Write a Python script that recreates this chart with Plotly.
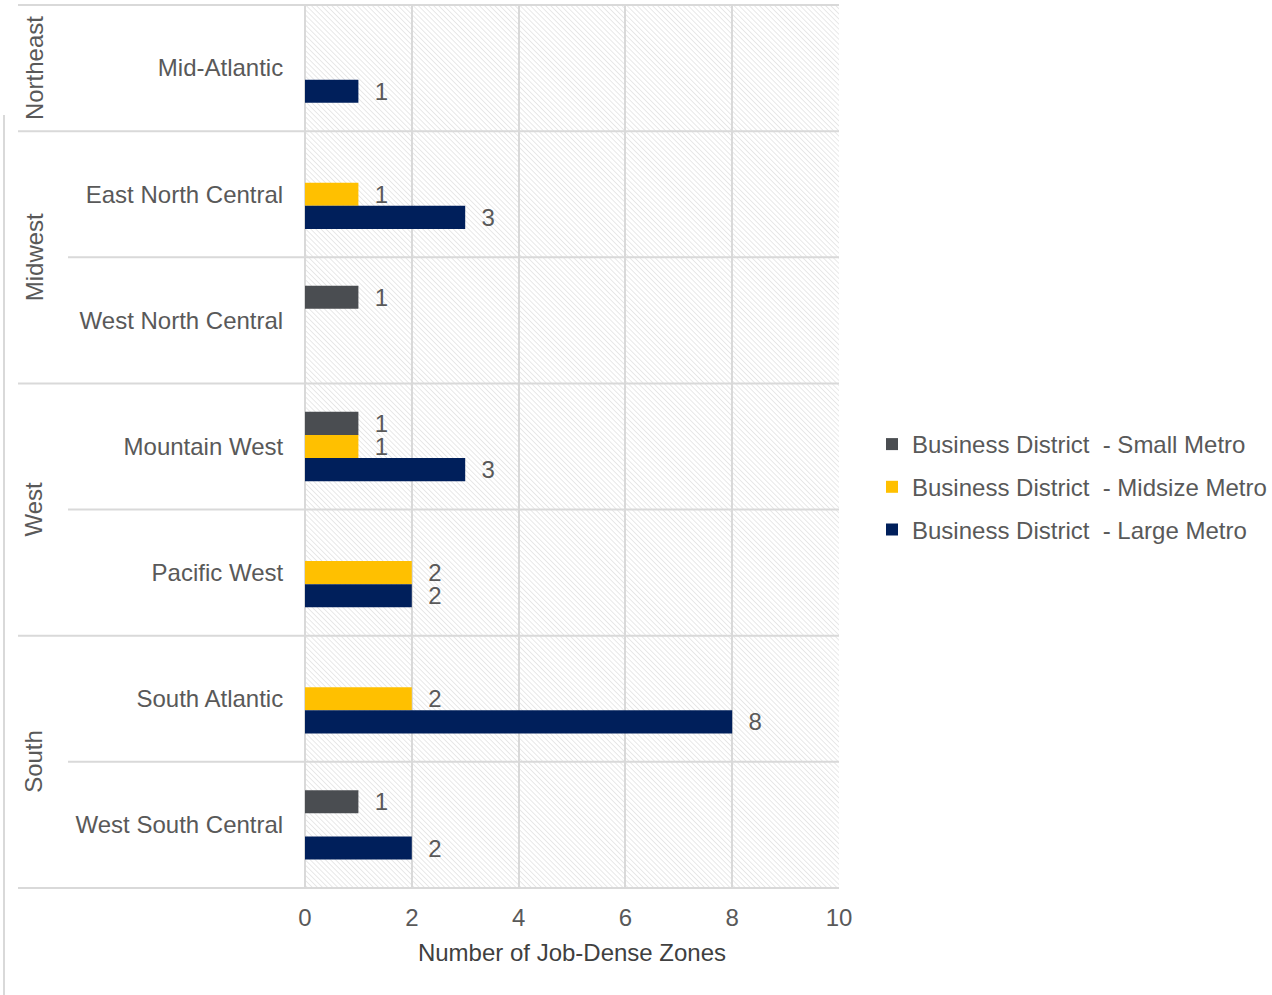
import base64
import plotly.graph_objects as go

categories = ["Mid-Atlantic", "East North Central", "West North Central",
              "Mountain West", "Pacific West", "South Atlantic", "West South Central"]
regions = ["Northeast", "Midwest", "Midwest", "West", "West", "South", "South"]

small_metro = [None, None, 1, 1, None, None, 1]
midsize_metro = [None, 1, None, 1, 2, 2, None]
large_metro = [1, 3, None, 3, 2, 8, 2]

series_names = ["Business District  - Small Metro",
                "Business District  - Midsize Metro",
                "Business District  - Large Metro"]
series_values = [small_metro, midsize_metro, large_metro]
series_colors = ["#4a4d51", "#ffc000", "#001f5b"]

x_ticks = [0, 2, 4, 6, 8, 10]

W, H = 1272, 995
ML, MR, MT, MB = 305, 433, 5, 107
PW, PH = W - ML - MR, H - MT - MB
FONT = "Liberation Sans, Arial, sans-serif"
TXT = "#595959"
GRID = "#d9d9d9"

fig = go.Figure()
for i, (name, vals, col) in enumerate(zip(series_names, series_values, series_colors)):
    fig.add_trace(go.Bar(
        y=categories, x=vals, name=name, orientation="h",
        marker=dict(color=col, line=dict(width=0)),
        texttemplate="\u00a0\u00a0%{x}", textposition="outside",
        constraintext="none", cliponaxis=False,
        textfont=dict(family=FONT, size=24, color=TXT),
        legendgroup=f"g{i}", hoverinfo="x+name",
    ))

# hatched plot background
svg = (f'<svg xmlns="http://www.w3.org/2000/svg" width="{PW}" height="{PH}" viewBox="0 0 {PW} {PH}">'
       '<defs><pattern id="h" width="3.6" height="3.6" patternUnits="userSpaceOnUse" '
       'patternTransform="rotate(-45)"><line x1="0" y1="0" x2="0" y2="3.6" '
       'stroke="#d2d2d2" stroke-width="1"/></pattern></defs>'
       f'<rect width="{PW}" height="{PH}" fill="white"/>'
       f'<rect width="{PW}" height="{PH}" fill="url(#h)"/></svg>')
src = "data:image/svg+xml;base64," + base64.b64encode(svg.encode()).decode()
fig.add_layout_image(dict(source=src, xref="paper", yref="paper", x=0, y=1,
                          sizex=1, sizey=1, sizing="stretch", xanchor="left",
                          yanchor="top", layer="below"))

# category / region separator lines
n = len(categories)
x_outer = (18 - ML) / PW
x_inner = (68 - ML) / PW
for k in range(n + 1):
    if k == 0 or k == n or regions[k] != regions[k - 1]:
        x0 = x_outer
    else:
        x0 = x_inner
    yp = 1 - k / n
    fig.add_shape(type="line", xref="paper", yref="paper", x0=x0, x1=1, y0=yp, y1=yp,
                  line=dict(color=GRID, width=2))

# left border of chart
fig.add_shape(type="line", xref="paper", yref="paper",
              x0=(4 - ML) / PW, x1=(4 - ML) / PW, y0=1 - (115 - MT) / PH, y1=-(MB) / PH,
              line=dict(color=GRID, width=2))

# region labels
seen = []
for r in regions:
    if r not in seen:
        seen.append(r)
for r in seen:
    idx = [i for i, rr in enumerate(regions) if rr == r]
    fig.add_annotation(text=r, xref="paper", yref="y", x=(34 - ML) / PW,
                       y=sum(idx) / len(idx), textangle=-90, showarrow=False,
                       xanchor="center", yanchor="middle",
                       font=dict(family=FONT, size=24, color=TXT))

fig.update_layout(
    width=W, height=H,
    margin=dict(l=ML, r=MR, t=MT, b=MB, autoexpand=False),
    paper_bgcolor="white", plot_bgcolor="rgba(0,0,0,0)",
    barmode="group", bargap=0.45, bargroupgap=0,
    font=dict(family=FONT, size=24, color=TXT),
    legend=dict(x=(872 - ML) / PW, xanchor="left", y=1 - (422 - MT) / PH, yanchor="top",
                font=dict(family=FONT, size=24, color=TXT), tracegroupgap=8.5,
                itemwidth=30, bgcolor="rgba(0,0,0,0)"),
    showlegend=True,
)
fig.update_xaxes(range=[0, 10], tickvals=x_ticks, ticktext=[str(v) for v in x_ticks],
                 showgrid=True, gridcolor=GRID, gridwidth=2, zeroline=True,
                 zerolinecolor=GRID, zerolinewidth=2, showline=False, automargin=False,
                 ticks="outside", ticklen=8, tickcolor="rgba(0,0,0,0)",
                 tickfont=dict(family=FONT, size=24, color=TXT),
                 title=dict(text="Number of Job-Dense Zones", standoff=14,
                            font=dict(family=FONT, size=24, color="#404040")))
fig.update_yaxes(autorange="reversed", type="category", showgrid=False, zeroline=False,
                 automargin=False,
                 ticks="outside", ticklen=16, tickcolor="rgba(0,0,0,0)",
                 tickfont=dict(family=FONT, size=24, color=TXT))

fig.write_html("out.html")
